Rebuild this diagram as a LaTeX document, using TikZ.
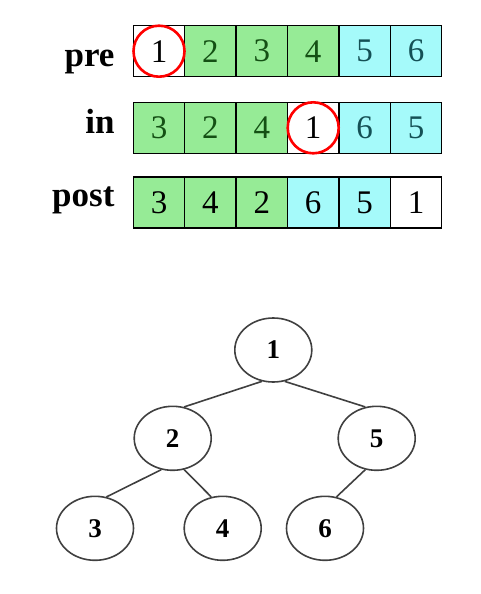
\documentclass[tikz,border=0pt]{standalone}
\usepackage{fontspec}
\setmainfont{Liberation Serif}
\usetikzlibrary{shapes.geometric}
\definecolor{cellgreen}{RGB}{150,235,150}
\definecolor{cellcyan}{RGB}{165,250,250}
\definecolor{numgreen}{RGB}{20,80,20}
\definecolor{numteal}{RGB}{20,80,85}
\begin{document}
\begin{tikzpicture}[x=1pt,y=-1pt]
	
		\tikzset{
		  cell/.style={
			draw,
			line width=1.5pt,
			inner sep=0pt,
			minimum width=51.4pt,
			minimum height=51pt,
			font=\fontsize{33}{36}\selectfont,
		  },
		  grn/.style={cell,fill=cellgreen,text=numgreen},
		  cyn/.style={cell,fill=cellcyan,text=numteal},
		  rowlabel/.style={anchor=base east,font=\bfseries\fontsize{35}{40}\selectfont},
		  rootring/.style={draw=red,line width=2.6pt,circle,minimum size=51pt,inner sep=0pt},
		  vertex/.style={draw=black!75,line width=1.6pt,ellipse,minimum width=77pt,minimum height=64pt,font=\bfseries\fontsize{27}{30}\selectfont},
		  branch/.style={draw=black!75,line width=1.6pt},
		}
		\useasboundingbox (0,0) rectangle (480,594);
		% row labels
		\node[rowlabel] (lpre) at (118,66.5) {pre};
		\node[rowlabel] (lin) at (118,133) {in};
		\node[rowlabel] (lpost) at (118,206.5) {post};
		% pre order
		\node[cell] (pre1) at (159,51.2) {1};
		\node[grn] (pre2) at (210.4,51.2) {2};
		\node[grn] (pre3) at (261.8,51.2) {3};
		\node[grn] (pre4) at (313.2,51.2) {4};
		\node[cyn] (pre5) at (364.6,51.2) {5};
		\node[cyn] (pre6) at (416,51.2) {6};
		% in order
		\node[grn] (in1) at (159,127.8) {3};
		\node[grn] (in2) at (210.4,127.8) {2};
		\node[grn] (in3) at (261.8,127.8) {4};
		\node[cell] (in4) at (313.2,127.8) {1};
		\node[cyn] (in5) at (364.6,127.8) {6};
		\node[cyn] (in6) at (416,127.8) {5};
		% post order
		\node[grn,text=black] (post1) at (159,202.5) {3};
		\node[grn,text=black] (post2) at (210.4,202.5) {4};
		\node[grn,text=black] (post3) at (261.8,202.5) {2};
		\node[cyn,text=black] (post4) at (313.2,202.5) {6};
		\node[cyn,text=black] (post5) at (364.6,202.5) {5};
		\node[cell] (post6) at (416,202.5) {1};
		% root marks
		\node[rootring] (rootpre) at (pre1) {};
		\node[rootring] (rootin) at (in4) {};
		% tree
		\node[vertex] (t1) at (273.3,350) {1};
		\node[vertex] (t2) at (172.7,438.3) {2};
		\node[vertex] (t5) at (376.7,438.3) {5};
		\node[vertex] (t3) at (95,528.3) {3};
		\node[vertex] (t4) at (222.7,528.3) {4};
		\node[vertex] (t6) at (325,528.3) {6};
		\draw[branch] (t1.250)--(t2.70);
		\draw[branch] (t1.290)--(t5.110);
		\draw[branch] (t2.250)--(t3.70);
		\draw[branch] (t2.290)--(t4.110);
		\draw[branch] (t5.250)--(t6.70);
	
	\end{tikzpicture}
\end{document}
